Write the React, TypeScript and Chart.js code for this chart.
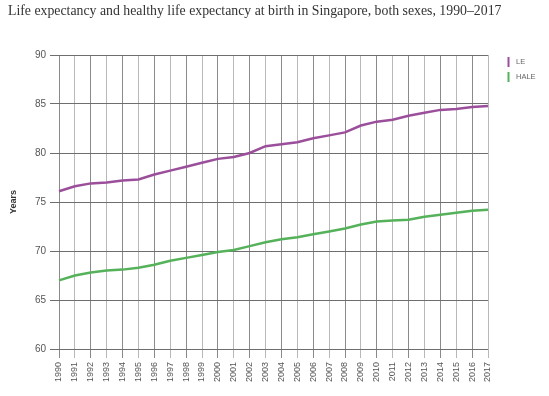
import React, { useEffect, useRef } from "react";
import { Chart, registerables } from "chart.js";

Chart.register(...registerables);

const years = [
  "1990", "1991", "1992", "1993", "1994", "1995", "1996", "1997", "1998", "1999",
  "2000", "2001", "2002", "2003", "2004", "2005", "2006", "2007", "2008", "2009",
  "2010", "2011", "2012", "2013", "2014", "2015", "2016", "2017",
];

const leValues = [
  76.1, 76.6, 76.9, 77.0, 77.2, 77.3, 77.8, 78.2, 78.6, 79.0,
  79.4, 79.6, 80.0, 80.7, 80.9, 81.1, 81.5, 81.8, 82.1, 82.8,
  83.2, 83.4, 83.8, 84.1, 84.4, 84.5, 84.7, 84.8,
];

const haleValues = [
  67.0, 67.5, 67.8, 68.0, 68.1, 68.3, 68.6, 69.0, 69.3, 69.6,
  69.9, 70.1, 70.5, 70.9, 71.2, 71.4, 71.7, 72.0, 72.3, 72.7,
  73.0, 73.1, 73.2, 73.5, 73.7, 73.9, 74.1, 74.2,
];

const seriesNames = ["LE", "HALE"];
const seriesColors = ["#9b4f9b", "#55b25a"];
const titleText =
  "Life expectancy and healthy life expectancy at birth in Singapore, both sexes, 1990\u20132017";

const overlayPlugin = {
  id: "overlay",
  afterDraw(chart: any) {
    const ctx = chart.ctx;
    ctx.save();
    // title
    ctx.fillStyle = "#333";
    ctx.font = "13.8px 'Liberation Serif', serif";
    ctx.textBaseline = "alphabetic";
    ctx.textAlign = "left";
    ctx.fillText(titleText, 8, 15);
    // legend
    const items = [
      { y: 57, name: seriesNames[0], color: seriesColors[0] },
      { y: 72, name: seriesNames[1], color: seriesColors[1] },
    ];
    ctx.font = "7.5px 'Liberation Sans', sans-serif";
    ctx.textBaseline = "middle";
    items.forEach((it) => {
      ctx.fillStyle = it.color;
      ctx.fillRect(507.5, it.y, 2, 10);
      ctx.fillStyle = "#666";
      ctx.fillText(it.name, 516, it.y + 5);
    });
    ctx.restore();
  },
};

export default function App() {
  const ref = useRef<HTMLCanvasElement>(null);
  useEffect(() => {
    document.body.style.margin = "0";
    const chart = new Chart(ref.current!, {
      type: "line",
      data: {
        labels: years,
        datasets: [
          {
            label: seriesNames[0],
            data: leValues,
            borderColor: seriesColors[0],
            backgroundColor: seriesColors[0],
            borderWidth: 2.5,
            pointRadius: 0,
            tension: 0,
          },
          {
            label: seriesNames[1],
            data: haleValues,
            borderColor: seriesColors[1],
            backgroundColor: seriesColors[1],
            borderWidth: 2.5,
            pointRadius: 0,
            tension: 0,
          },
        ],
      },
      options: {
        animation: false,
        responsive: false,
        layout: { padding: { top: 55, right: 61, left: 0, bottom: 0 } },
        plugins: {
          legend: { display: false },
          title: { display: false },
          tooltip: { enabled: false },
        },
        scales: {
          x: {
            offset: false,
            grid: {
              color: (c: any) => (c.index % 2 === 0 ? "#8a8a8a" : "#b8b8b8"),
              tickColor: (c: any) => (c.index % 2 === 0 ? "#8a8a8a" : "#b8b8b8"),
              tickLength: 9,
              lineWidth: 1,
            },
            border: { display: false },
            ticks: {
              autoSkip: false,
              maxRotation: 90,
              minRotation: 90,
              padding: 4,
              color: "#555",
              font: { family: "'Liberation Sans', sans-serif", size: 9 },
            },
            afterFit: (s: any) => {
              s.height = 47;
            },
          },
          y: {
            min: 60,
            max: 90,
            ticks: {
              stepSize: 5,
              padding: 4,
              color: "#555",
              font: { family: "'Liberation Sans', sans-serif", size: 10 },
            },
            grid: {
              color: "#6e6e6e",
              tickColor: "#6e6e6e",
              tickLength: 9,
              lineWidth: 1,
            },
            border: { display: false },
            title: {
              display: true,
              text: "Years",
              color: "#333",
              font: { family: "'Liberation Sans', sans-serif", size: 9, weight: "bold" },
              padding: { top: 8, bottom: 0 },
            },
            afterFit: (s: any) => {
              s.width = 59;
            },
          },
        },
      },
      plugins: [overlayPlugin],
    });
    return () => chart.destroy();
  }, []);
  return (
    <div style={{ position: "fixed", left: 0, top: 0, width: 549, height: 396 }}>
      <canvas ref={ref} width={549} height={396} />
    </div>
  );
}
